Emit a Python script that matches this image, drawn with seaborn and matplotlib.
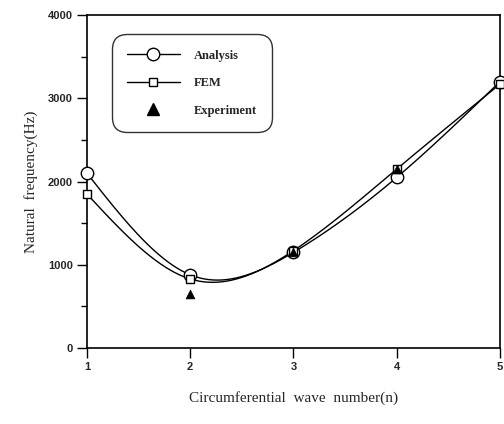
import numpy as np
import pandas as pd
import matplotlib
matplotlib.use("Agg")
import matplotlib.pyplot as plt
import seaborn as sns
from matplotlib.lines import Line2D

# Natural frequency vs circumferential wave number
wave_n = [1, 2, 3, 4, 5]
analysis_hz = [2100, 880, 1150, 2050, 3200]
fem_hz = [1850, 830, 1170, 2150, 3170]
exp_n = [2, 3, 4]
exp_hz = [650, 1150, 2150]

y_ticks = [0, 1000, 2000, 3000, 4000]
x_ticks = [1, 2, 3, 4, 5]


def natural_spline(x, y, xs):
    """Natural cubic spline through (x, y), evaluated at xs."""
    x = np.asarray(x, float)
    y = np.asarray(y, float)
    n = len(x)
    h = np.diff(x)
    A = np.zeros((n, n))
    b = np.zeros(n)
    A[0, 0] = A[-1, -1] = 1.0
    for i in range(1, n - 1):
        A[i, i - 1] = h[i - 1]
        A[i, i] = 2 * (h[i - 1] + h[i])
        A[i, i + 1] = h[i]
        b[i] = 6 * ((y[i + 1] - y[i]) / h[i] - (y[i] - y[i - 1]) / h[i - 1])
    M = np.linalg.solve(A, b)
    out = np.empty_like(xs)
    for k, t in enumerate(xs):
        i = min(max(np.searchsorted(x, t) - 1, 0), n - 2)
        a = x[i + 1] - t
        c = t - x[i]
        out[k] = (M[i] * a ** 3 + M[i + 1] * c ** 3) / (6 * h[i]) \
            + (y[i] / h[i] - M[i] * h[i] / 6) * a \
            + (y[i + 1] / h[i] - M[i + 1] * h[i] / 6) * c
    return out


sns.set_style("ticks")
plt.rcParams["font.family"] = ["Liberation Sans", "DejaVu Sans"]

fig = plt.figure(figsize=(5.04, 4.24), dpi=100)
ax = fig.add_axes([0.1726, 0.179, 0.8194, 0.7856])

xs = np.linspace(1, 5, 300)
curves = pd.DataFrame({
    "n": np.concatenate([xs, xs]),
    "f": np.concatenate([natural_spline(wave_n, analysis_hz, xs),
                         natural_spline(wave_n, fem_hz, xs)]),
    "series": ["Analysis"] * len(xs) + ["FEM"] * len(xs),
})
sns.lineplot(data=curves, x="n", y="f", units="series", estimator=None,
             color="black", linewidth=1.0, ax=ax, legend=False)

sns.scatterplot(x=wave_n, y=analysis_hz, marker="o", s=80,
                facecolor="white", edgecolor="black", linewidth=1.0,
                ax=ax, zorder=3, clip_on=False)
sns.scatterplot(x=wave_n, y=fem_hz, marker="s", s=36,
                facecolor="white", edgecolor="black", linewidth=1.0,
                ax=ax, zorder=4, clip_on=False)
sns.scatterplot(x=exp_n, y=exp_hz, marker="^", s=40, color="black",
                edgecolor="black", ax=ax, zorder=5)

ax.set_xlim(1, 5)
ax.set_ylim(0, 4000)
ax.set_xticks(x_ticks)
ax.set_yticks(y_ticks)
ax.set_yticks([500, 1500, 2500, 3500], minor=True)
ax.set_xticklabels([str(v) for v in x_ticks], fontweight="bold", fontsize=8)
ax.set_yticklabels([str(v) for v in y_ticks], fontweight="bold", fontsize=8)
ax.tick_params(axis="both", which="major", direction="out", length=7,
               width=1.0, color="black", pad=3)
ax.tick_params(axis="y", which="minor", direction="out", length=4,
               width=1.0, color="black")
for sp in ax.spines.values():
    sp.set_visible(True)
    sp.set_color("black")
    sp.set_linewidth(1.2)

serif = ["Liberation Serif", "DejaVu Serif"]
ax.set_xlabel("Circumferential  wave  number(n)", family=serif, fontsize=11,
              labelpad=14)
ax.set_ylabel("Natural  frequency(Hz)", family=serif, fontsize=11,
              labelpad=7)

handles = [
    Line2D([], [], color="black", lw=1.0, marker="o", markersize=9,
           markerfacecolor="white", markeredgecolor="black"),
    Line2D([], [], color="black", lw=1.0, marker="s", markersize=6,
           markerfacecolor="white", markeredgecolor="black"),
    Line2D([], [], color="none", marker="^", markersize=8,
           markerfacecolor="black", markeredgecolor="black"),
]
leg = ax.legend(handles, ["Analysis", "FEM", "Experiment"],
                loc="upper left", bbox_to_anchor=(0.07, 0.93),
                prop={"family": serif, "weight": "bold", "size": 9},
                frameon=True, fancybox=True, edgecolor="black",
                handlelength=4.2, labelspacing=1.25, borderpad=0.9,
                handletextpad=1.1, borderaxespad=0)
leg.get_frame().set_linewidth(1.0)
leg.get_frame().set_boxstyle("round", pad=0.35, rounding_size=1.2)

fig.savefig("out.png", dpi=100)
